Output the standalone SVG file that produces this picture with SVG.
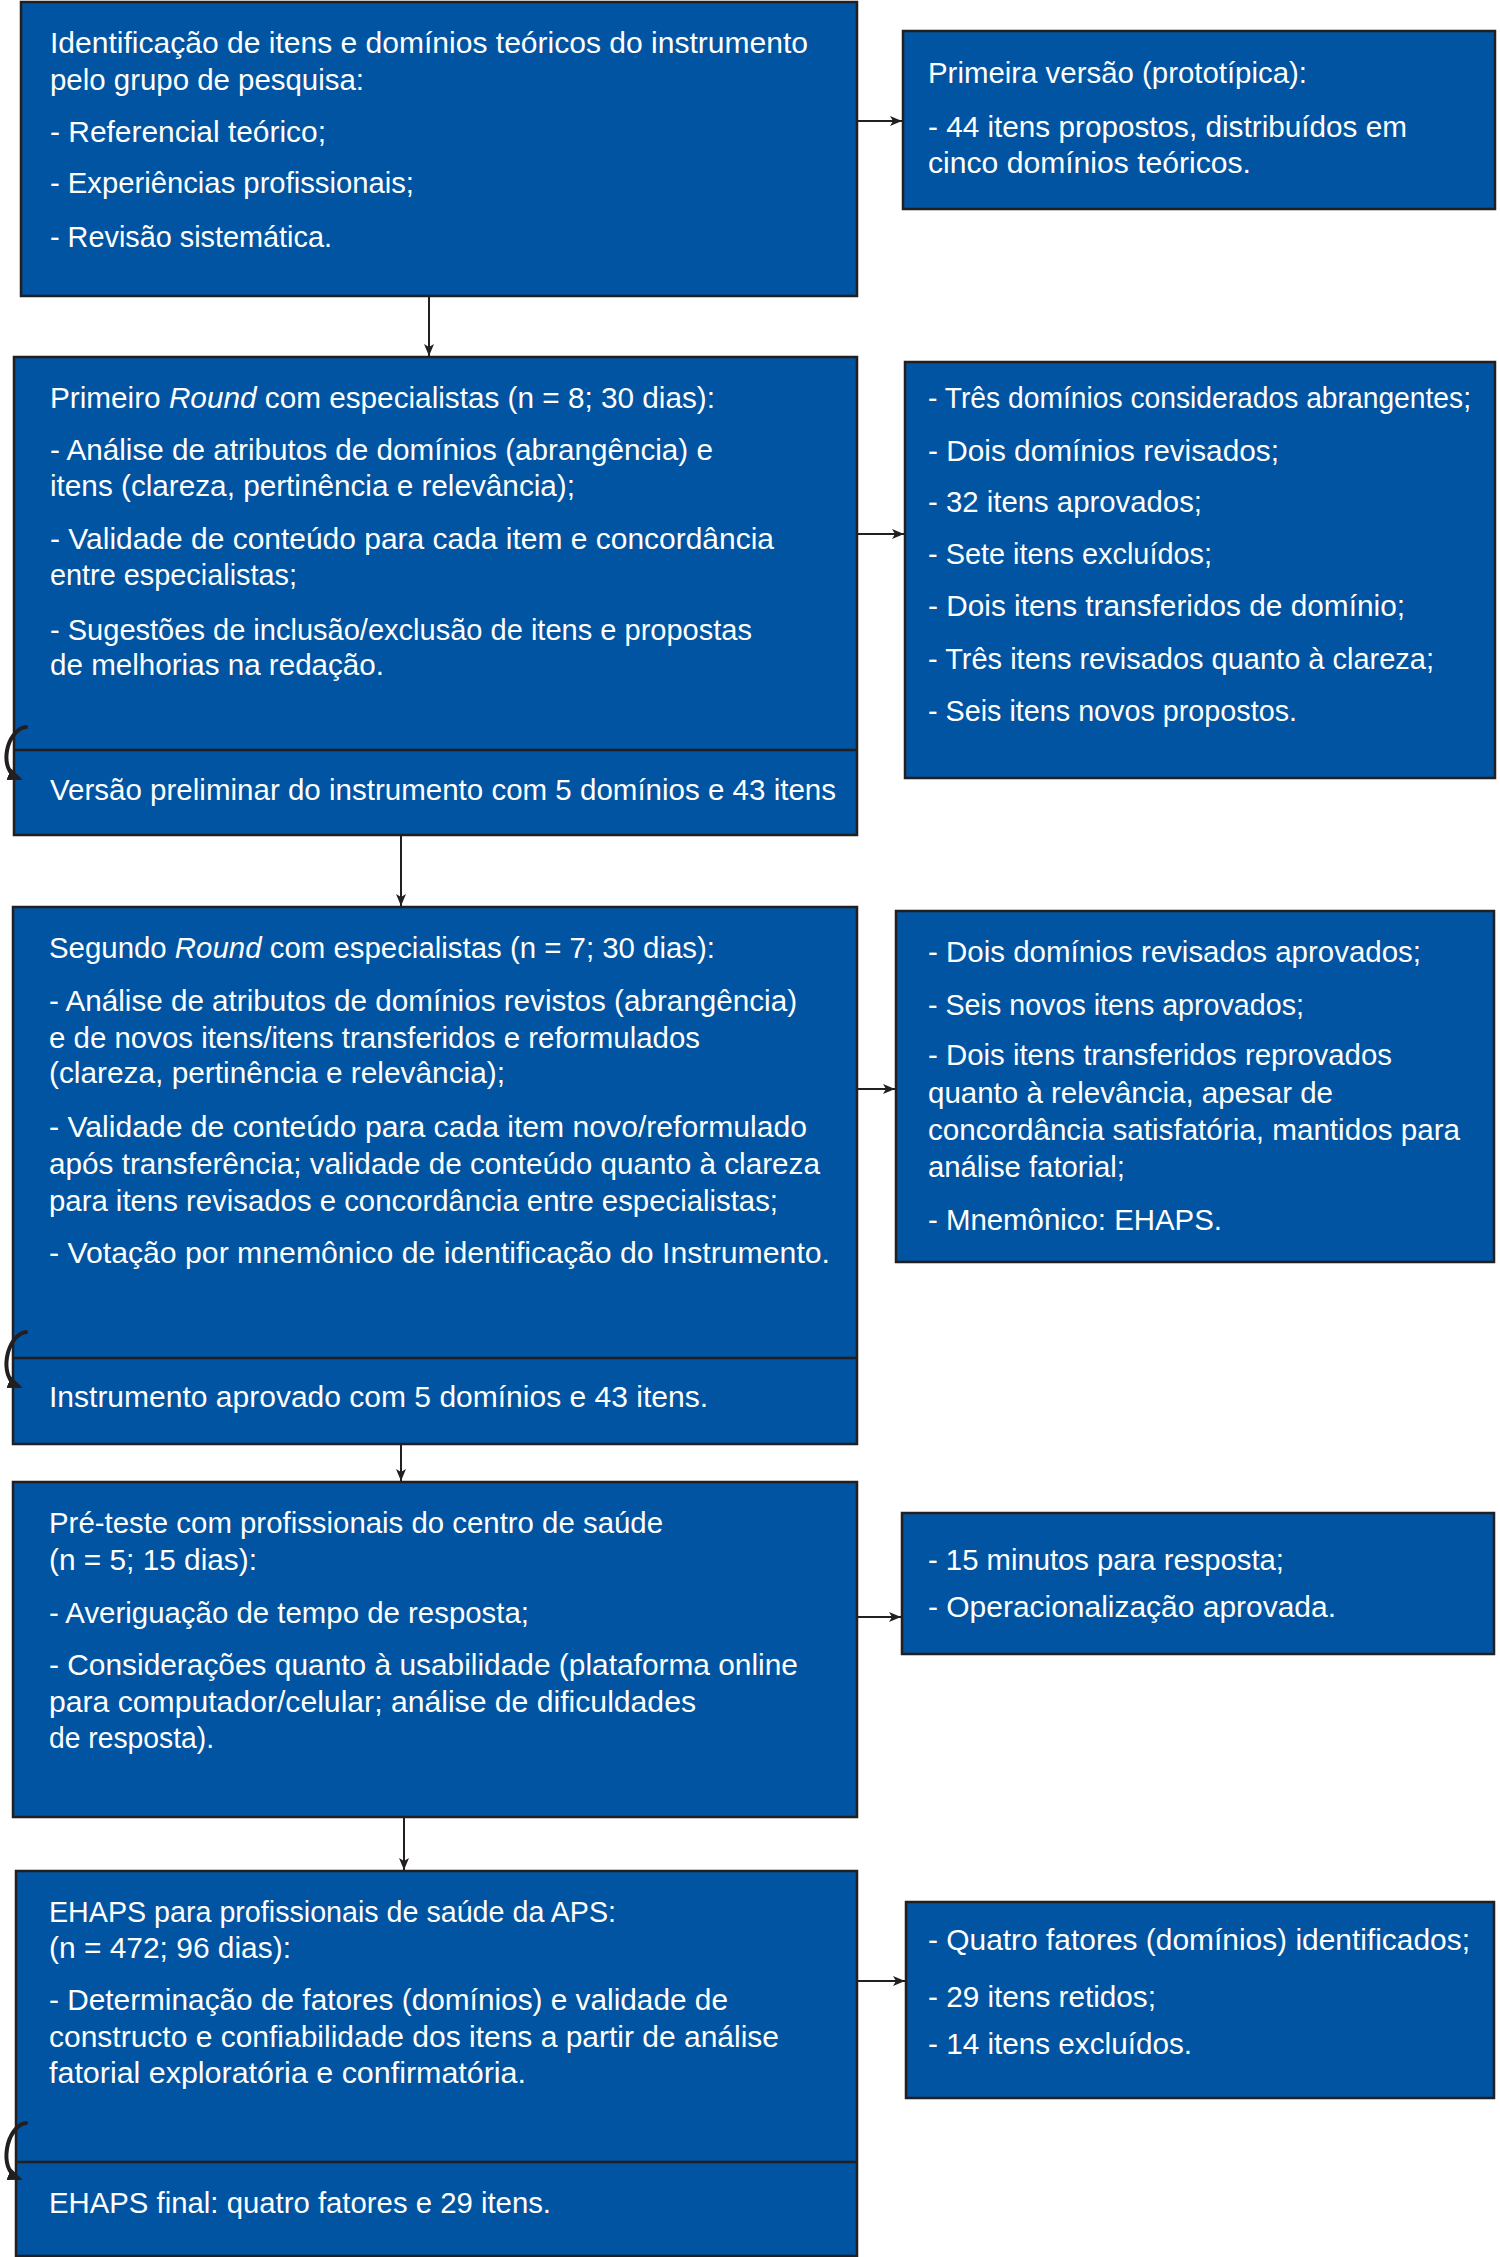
<svg xmlns="http://www.w3.org/2000/svg" width="1500" height="2257" viewBox="0 0 1500 2257">
<defs>
<style>
.box{fill:#0054a1;stroke:#231f20;stroke-width:2.5}
.div{stroke:#231f20;stroke-width:2.5;fill:none}
.t{font-family:"Liberation Sans",Arial,sans-serif;font-size:29px;fill:#ffffff}
.c{stroke:#231f20;stroke-width:2;fill:none}
.loop{stroke:#231f20;stroke-width:4;fill:none;stroke-linecap:round}
</style>
<marker id="ah" viewBox="0 0 12 10" refX="12" refY="5" markerWidth="12" markerHeight="10" markerUnits="userSpaceOnUse" orient="auto">
<path d="M0,0 L12,5 L0,10 L3,5 Z" fill="#231f20"/>
</marker>
<marker id="ah2" viewBox="0 0 12 10" refX="8" refY="5" markerWidth="15" markerHeight="13" markerUnits="userSpaceOnUse" orient="auto">
<path d="M0,0 L12,5 L0,10 Z" fill="#231f20"/>
</marker>
</defs>
<rect width="1500" height="2257" fill="#ffffff"/>

<g id="node-identificacao">
<rect class="box" x="21" y="2" width="836" height="294"/>
<text class="t" x="50" y="53" textLength="758" lengthAdjust="spacingAndGlyphs">Identificação de itens e domínios teóricos do instrumento</text>
<text class="t" x="50" y="90" textLength="314" lengthAdjust="spacingAndGlyphs">pelo grupo de pesquisa:</text>
<text class="t" x="50" y="142" textLength="276" lengthAdjust="spacingAndGlyphs">- Referencial teórico;</text>
<text class="t" x="50" y="193" textLength="364" lengthAdjust="spacingAndGlyphs">- Experiências profissionais;</text>
<text class="t" x="50" y="247" textLength="282" lengthAdjust="spacingAndGlyphs">- Revisão sistemática.</text>
</g>

<g id="node-primeira-versao">
<rect class="box" x="903" y="31" width="592" height="178"/>
<text class="t" x="928" y="83" textLength="379" lengthAdjust="spacingAndGlyphs">Primeira versão (prototípica):</text>
<text class="t" x="928" y="137" textLength="479" lengthAdjust="spacingAndGlyphs">- 44 itens propostos, distribuídos em</text>
<text class="t" x="928" y="173" textLength="323" lengthAdjust="spacingAndGlyphs">cinco domínios teóricos.</text>
</g>

<g id="node-primeiro-round">
<rect class="box" x="14" y="357" width="843" height="478"/>
<line class="div" x1="14" y1="750" x2="857" y2="750"/>
<text class="t" x="50" y="408" textLength="665" lengthAdjust="spacingAndGlyphs">Primeiro <tspan font-style="italic">Round</tspan> com especialistas (n = 8; 30 dias):</text>
<text class="t" x="50" y="460" textLength="663" lengthAdjust="spacingAndGlyphs">- Análise de atributos de domínios (abrangência) e</text>
<text class="t" x="50" y="496" textLength="525" lengthAdjust="spacingAndGlyphs">itens (clareza, pertinência e relevância);</text>
<text class="t" x="50" y="549" textLength="724" lengthAdjust="spacingAndGlyphs">- Validade de conteúdo para cada item e concordância</text>
<text class="t" x="50" y="585" textLength="247" lengthAdjust="spacingAndGlyphs">entre especialistas;</text>
<text class="t" x="50" y="640" textLength="702" lengthAdjust="spacingAndGlyphs">- Sugestões de inclusão/exclusão de itens e propostas</text>
<text class="t" x="50" y="675" textLength="334" lengthAdjust="spacingAndGlyphs">de melhorias na redação.</text>
<text class="t" x="50" y="800" textLength="786" lengthAdjust="spacingAndGlyphs">Versão preliminar do instrumento com 5 domínios e 43 itens</text>
</g>

<g id="node-resultados-primeiro">
<rect class="box" x="905" y="362" width="590" height="416"/>
<text class="t" x="928" y="408" textLength="543" lengthAdjust="spacingAndGlyphs">- Três domínios considerados abrangentes;</text>
<text class="t" x="928" y="461" textLength="351" lengthAdjust="spacingAndGlyphs">- Dois domínios revisados;</text>
<text class="t" x="928" y="512" textLength="274" lengthAdjust="spacingAndGlyphs">- 32 itens aprovados;</text>
<text class="t" x="928" y="564" textLength="284" lengthAdjust="spacingAndGlyphs">- Sete itens excluídos;</text>
<text class="t" x="928" y="616" textLength="477" lengthAdjust="spacingAndGlyphs">- Dois itens transferidos de domínio;</text>
<text class="t" x="928" y="669" textLength="506" lengthAdjust="spacingAndGlyphs">- Três itens revisados quanto à clareza;</text>
<text class="t" x="928" y="721" textLength="369" lengthAdjust="spacingAndGlyphs">- Seis itens novos propostos.</text>
</g>

<g id="node-segundo-round">
<rect class="box" x="13" y="907" width="844" height="537"/>
<line class="div" x1="13" y1="1358" x2="857" y2="1358"/>
<text class="t" x="49" y="958" textLength="666" lengthAdjust="spacingAndGlyphs">Segundo <tspan font-style="italic">Round</tspan> com especialistas (n = 7; 30 dias):</text>
<text class="t" x="49" y="1011" textLength="748" lengthAdjust="spacingAndGlyphs">- Análise de atributos de domínios revistos (abrangência)</text>
<text class="t" x="49" y="1048" textLength="651" lengthAdjust="spacingAndGlyphs">e de novos itens/itens transferidos e reformulados</text>
<text class="t" x="49" y="1083" textLength="456" lengthAdjust="spacingAndGlyphs">(clareza, pertinência e relevância);</text>
<text class="t" x="49" y="1137" textLength="758" lengthAdjust="spacingAndGlyphs">- Validade de conteúdo para cada item novo/reformulado</text>
<text class="t" x="49" y="1174" textLength="771" lengthAdjust="spacingAndGlyphs">após transferência; validade de conteúdo quanto à clareza</text>
<text class="t" x="49" y="1211" textLength="729" lengthAdjust="spacingAndGlyphs">para itens revisados e concordância entre especialistas;</text>
<text class="t" x="49" y="1263" textLength="781" lengthAdjust="spacingAndGlyphs">- Votação por mnemônico de identificação do Instrumento.</text>
<text class="t" x="49" y="1407" textLength="659" lengthAdjust="spacingAndGlyphs">Instrumento aprovado com 5 domínios e 43 itens.</text>
</g>

<g id="node-resultados-segundo">
<rect class="box" x="896" y="911" width="598" height="351"/>
<text class="t" x="928" y="962" textLength="493" lengthAdjust="spacingAndGlyphs">- Dois domínios revisados aprovados;</text>
<text class="t" x="928" y="1015" textLength="376" lengthAdjust="spacingAndGlyphs">- Seis novos itens aprovados;</text>
<text class="t" x="928" y="1065" textLength="464" lengthAdjust="spacingAndGlyphs">- Dois itens transferidos reprovados</text>
<text class="t" x="928" y="1103" textLength="405" lengthAdjust="spacingAndGlyphs">quanto à relevância, apesar de</text>
<text class="t" x="928" y="1140" textLength="532" lengthAdjust="spacingAndGlyphs">concordância satisfatória, mantidos para</text>
<text class="t" x="928" y="1177" textLength="197" lengthAdjust="spacingAndGlyphs">análise fatorial;</text>
<text class="t" x="928" y="1230" textLength="294" lengthAdjust="spacingAndGlyphs">- Mnemônico: EHAPS.</text>
</g>

<g id="node-pre-teste">
<rect class="box" x="13" y="1482" width="844" height="335"/>
<text class="t" x="49" y="1533" textLength="614" lengthAdjust="spacingAndGlyphs">Pré-teste com profissionais do centro de saúde</text>
<text class="t" x="49" y="1570" textLength="208" lengthAdjust="spacingAndGlyphs">(n = 5; 15 dias):</text>
<text class="t" x="49" y="1623" textLength="480" lengthAdjust="spacingAndGlyphs">- Averiguação de tempo de resposta;</text>
<text class="t" x="49" y="1675" textLength="749" lengthAdjust="spacingAndGlyphs">- Considerações quanto à usabilidade (plataforma online</text>
<text class="t" x="49" y="1712" textLength="647" lengthAdjust="spacingAndGlyphs">para computador/celular; análise de dificuldades</text>
<text class="t" x="49" y="1748" textLength="165" lengthAdjust="spacingAndGlyphs">de resposta).</text>
</g>

<g id="node-resultados-pre-teste">
<rect class="box" x="902" y="1513" width="592" height="141"/>
<text class="t" x="928" y="1570" textLength="356" lengthAdjust="spacingAndGlyphs">- 15 minutos para resposta;</text>
<text class="t" x="928" y="1617" textLength="408" lengthAdjust="spacingAndGlyphs">- Operacionalização aprovada.</text>
</g>

<g id="node-ehaps">
<rect class="box" x="16" y="1871" width="841" height="385"/>
<line class="div" x1="16" y1="2162" x2="857" y2="2162"/>
<text class="t" x="49" y="1922" textLength="567" lengthAdjust="spacingAndGlyphs">EHAPS para profissionais de saúde da APS:</text>
<text class="t" x="49" y="1958" textLength="242" lengthAdjust="spacingAndGlyphs">(n = 472; 96 dias):</text>
<text class="t" x="49" y="2010" textLength="679" lengthAdjust="spacingAndGlyphs">- Determinação de fatores (domínios) e validade de</text>
<text class="t" x="49" y="2047" textLength="730" lengthAdjust="spacingAndGlyphs">constructo e confiabilidade dos itens a partir de análise</text>
<text class="t" x="49" y="2083" textLength="477" lengthAdjust="spacingAndGlyphs">fatorial exploratória e confirmatória.</text>
<text class="t" x="49" y="2213" textLength="502" lengthAdjust="spacingAndGlyphs">EHAPS final: quatro fatores e 29 itens.</text>
</g>

<g id="node-resultados-ehaps">
<rect class="box" x="906" y="1902" width="588" height="196"/>
<text class="t" x="928" y="1950" textLength="542" lengthAdjust="spacingAndGlyphs">- Quatro fatores (domínios) identificados;</text>
<text class="t" x="928" y="2007" textLength="228" lengthAdjust="spacingAndGlyphs">- 29 itens retidos;</text>
<text class="t" x="928" y="2054" textLength="264" lengthAdjust="spacingAndGlyphs">- 14 itens excluídos.</text>
</g>

<g id="connectors">
<line class="c" x1="429" y1="296" x2="429" y2="356" marker-end="url(#ah)"/>
<line class="c" x1="401" y1="835" x2="401" y2="906" marker-end="url(#ah)"/>
<line class="c" x1="401" y1="1444" x2="401" y2="1481" marker-end="url(#ah)"/>
<line class="c" x1="404" y1="1817" x2="404" y2="1870" marker-end="url(#ah)"/>
<line class="c" x1="857" y1="121" x2="902" y2="121" marker-end="url(#ah)"/>
<line class="c" x1="857" y1="534" x2="904" y2="534" marker-end="url(#ah)"/>
<line class="c" x1="857" y1="1089" x2="895" y2="1089" marker-end="url(#ah)"/>
<line class="c" x1="857" y1="1617" x2="901" y2="1617" marker-end="url(#ah)"/>
<line class="c" x1="857" y1="1981" x2="905" y2="1981" marker-end="url(#ah)"/>
<path class="loop" d="M26,727 C6,730 -2,770 18,778" marker-end="url(#ah2)"/>
<path class="loop" d="M26,1332 C6,1335 -2,1378 18,1386" marker-end="url(#ah2)"/>
<path class="loop" d="M26,2123 C6,2126 -2,2170 18,2178" marker-end="url(#ah2)"/>
</g>
</svg>
